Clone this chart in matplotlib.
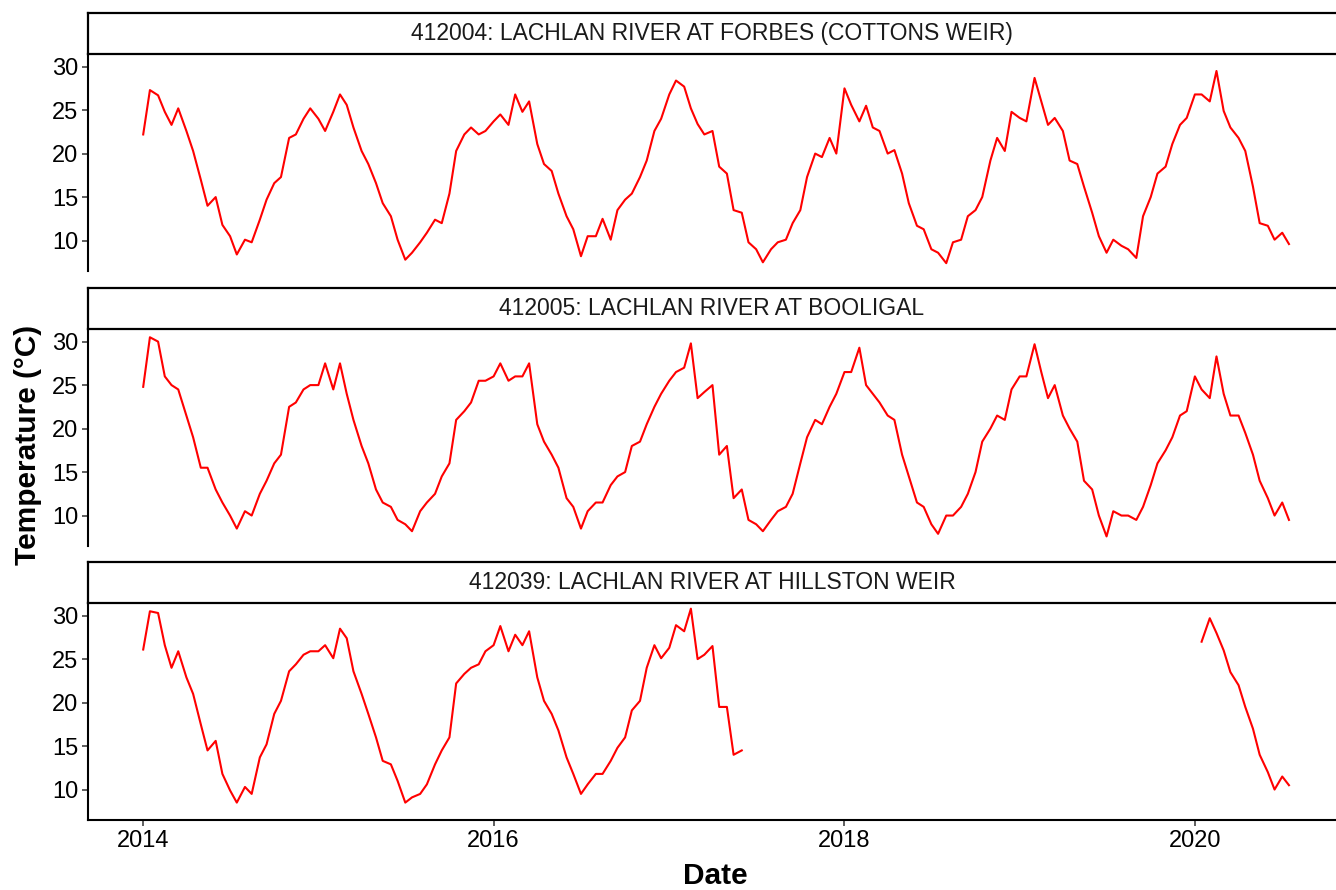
import numpy as np
import pandas as pd
import matplotlib
matplotlib.use("Agg")
import matplotlib.pyplot as plt
import matplotlib.dates as mdates

plt.rcParams['font.family'] = ['Liberation Sans', 'DejaVu Sans']

# ------------------------------------------------------------------
# Dados (temperatura da agua, leitura semi-mensal a partir da figura)

station_titles = [
    "412004: LACHLAN RIVER AT FORBES (COTTONS WEIR)",
    "412005: LACHLAN RIVER AT BOOLIGAL",
    "412039: LACHLAN RIVER AT HILLSTON WEIR",
]

forbes = [
    22.2, 27.3, 26.7, 24.8, 23.3, 25.2, 22.6, 20.3, 17.0, 14.0, 15.0, 11.8,
    10.5, 8.4, 10.1, 9.8, 12.4, 14.7, 16.6, 17.3, 21.8, 22.2, 24.0, 25.2,
    24.0, 22.6, 24.8, 26.8, 25.6, 23.0, 20.3, 18.8, 16.6, 14.3, 12.8, 10.1,
    7.8, 8.6, 9.8, 10.9, 12.4, 12.0, 15.4, 20.3, 22.2, 23.0, 22.2, 22.6,
    23.7, 24.5, 23.3, 26.8, 24.8, 26.0, 21.1, 18.8, 18.0, 15.4, 12.8, 11.3,
    8.2, 10.5, 10.5, 12.5, 10.1, 13.5, 14.7, 15.4, 17.3, 19.2, 22.6, 24.0,
    26.8, 28.4, 27.7, 25.2, 23.4, 22.2, 22.6, 18.5, 17.7, 13.5, 13.2, 9.8,
    9.0, 7.5, 9.0, 9.8, 10.1, 12.0, 13.5, 17.3, 20.0, 19.6, 21.8, 20.0,
    27.5, 25.6, 23.7, 25.5, 23.0, 22.6, 20.0, 20.4, 17.7, 14.3, 11.7, 11.3,
    9.0, 8.6, 7.4, 9.8, 10.1, 12.8, 13.5, 15.0, 19.2, 21.8, 20.3, 24.8,
    24.1, 23.7, 28.7, 26.0, 23.3, 24.1, 22.6, 19.2, 18.8, 16.2, 13.2, 10.5,
    8.6, 10.1, 9.4, 9.0, 8.0, 12.8, 15.0, 17.7, 18.5, 21.1, 23.3, 24.1,
    26.8, 26.8, 26.0, 29.5, 24.9, 23.0, 21.8, 20.3, 16.2, 12.0, 11.7, 10.1,
    10.9, 9.6,
]

booligal = [
    24.8, 30.5, 30.0, 26.0, 25.0, 24.5, 21.5, 19.0, 15.5, 15.5, 13.0, 11.5,
    10.0, 8.5, 10.5, 10.0, 12.5, 14.0, 16.0, 17.0, 22.5, 23.0, 24.5, 25.0,
    25.0, 27.5, 24.5, 27.5, 24.0, 21.0, 18.0, 16.0, 13.0, 11.5, 11.0, 9.5,
    9.0, 8.2, 10.5, 11.5, 12.5, 14.5, 16.0, 21.0, 22.0, 23.0, 25.5, 25.5,
    26.0, 27.5, 25.5, 26.0, 26.0, 27.5, 20.5, 18.5, 17.0, 15.5, 12.0, 11.0,
    8.5, 10.5, 11.5, 11.5, 13.5, 14.5, 15.0, 18.0, 18.5, 20.5, 22.5, 24.0,
    25.5, 26.5, 27.0, 29.8, 23.5, 24.2, 25.0, 17.0, 18.0, 12.0, 13.0, 9.5,
    9.0, 8.2, 9.5, 10.5, 11.0, 12.5, 16.0, 19.0, 21.0, 20.5, 22.5, 24.0,
    26.5, 26.5, 29.3, 25.0, 24.0, 23.0, 21.5, 21.0, 17.0, 14.5, 11.5, 11.0,
    9.0, 7.9, 10.0, 10.0, 11.0, 12.5, 15.0, 18.5, 20.0, 21.5, 21.0, 24.5,
    26.0, 26.0, 29.7, 26.5, 23.5, 25.0, 21.5, 20.0, 18.5, 14.0, 13.0, 10.0,
    7.6, 10.5, 10.0, 10.0, 9.5, 11.0, 13.5, 16.0, 17.5, 19.0, 21.5, 22.0,
    26.0, 24.5, 23.5, 28.3, 24.0, 21.5, 21.5, 19.5, 17.0, 14.0, 12.0, 10.0,
    11.5, 9.5,
]

# Hillston: sem dados entre meados de 2017 e janeiro de 2020
hillston_a = [
    26.1, 30.5, 30.3, 26.6, 24.0, 25.9, 22.9, 21.0, 17.5, 14.5, 15.6, 11.8,
    9.9, 8.5, 10.3, 9.5, 13.7, 15.2, 18.7, 20.2, 23.6, 24.4, 25.5, 25.9,
    25.9, 26.6, 25.1, 28.5, 27.4, 23.6, 21.0, 18.7, 16.0, 13.3, 12.9, 11.0,
    8.5, 9.1, 9.5, 10.6, 12.9, 14.5, 16.0, 22.2, 23.3, 24.0, 24.4, 25.9,
    26.6, 28.8, 25.9, 27.8, 26.6, 28.2, 22.9, 20.2, 18.7, 16.8, 13.7, 11.8,
    9.5, 10.6, 11.8, 11.8, 13.3, 14.8, 16.0, 19.1, 20.2, 24.0, 26.6, 25.1,
    26.3, 28.9, 28.2, 30.8, 25.0, 25.5, 26.5, 19.5, 19.5, 14.0, 14.5,
]
hillston_b = [
    27.0, 29.7, 28.0, 26.0, 23.5, 22.0, 19.5, 17.0, 14.0, 12.0, 10.0, 11.5,
    10.5,
]

n = len(forbes)
hillston = hillston_a + [np.nan] * (n - len(hillston_a) - len(hillston_b)) + hillston_b

datas = pd.date_range('2014-01-01', periods=n, freq='SMS')
series = [forbes, booligal, hillston]

# ------------------------------------------------------------------
# Layout (pixels)

W, H = 1336, 890
left, right = 88, 1336
paineis = [(13, 54, 271), (288, 329, 546), (562, 603, 820)]

fig = plt.figure(figsize=(W / 100, H / 100), dpi=100)

def caixa(top, bottom):
    return [left / W, 1 - bottom / H, (right - left) / W, (bottom - top) / H]

for i, (st, pt, pb) in enumerate(paineis):
    ax = fig.add_axes(caixa(pt, pb))
    ax.plot(datas, series[i], color='red', lw=1.5)
    ax.set_ylim(6.5, 31.45)
    ax.set_xlim(pd.Timestamp('2013-09-08'), pd.Timestamp('2020-10-21'))
    ax.set_yticks([10, 15, 20, 25, 30])
    ax.spines['top'].set_visible(False)
    ax.spines['right'].set_visible(False)
    ax.spines['left'].set_linewidth(1.5)
    ax.spines['bottom'].set_linewidth(1.5)
    ax.xaxis.set_major_locator(mdates.YearLocator(2))
    ax.xaxis.set_major_formatter(mdates.DateFormatter('%Y'))
    ax.tick_params(length=4, width=1.1, color='#333333', labelsize=17,
                   labelcolor='black', pad=3)
    if i < 2:
        ax.spines['bottom'].set_visible(False)
        ax.tick_params(axis='x', bottom=False, labelbottom=False)

    # faixa com o nome da estacao
    sa = fig.add_axes(caixa(st, pt))
    sa.set_xticks([])
    sa.set_yticks([])
    for s in ['left', 'top', 'bottom']:
        sa.spines[s].set_linewidth(1.6)
    sa.spines['right'].set_visible(False)
    sa.text(0.5, 0.5, station_titles[i], ha='center', va='center',
            fontsize=16.5, color='#1A1A1A', transform=sa.transAxes)

fig.text(28 / W, 1 - 445 / H, 'Temperature (°C)', rotation=90, ha='center',
         va='center', fontsize=21.5, fontweight='bold')
fig.text(715 / W, 1 - 876 / H, 'Date', ha='center', va='center',
         fontsize=21.5, fontweight='bold')

fig.savefig('out.png', dpi=100, facecolor='white')
